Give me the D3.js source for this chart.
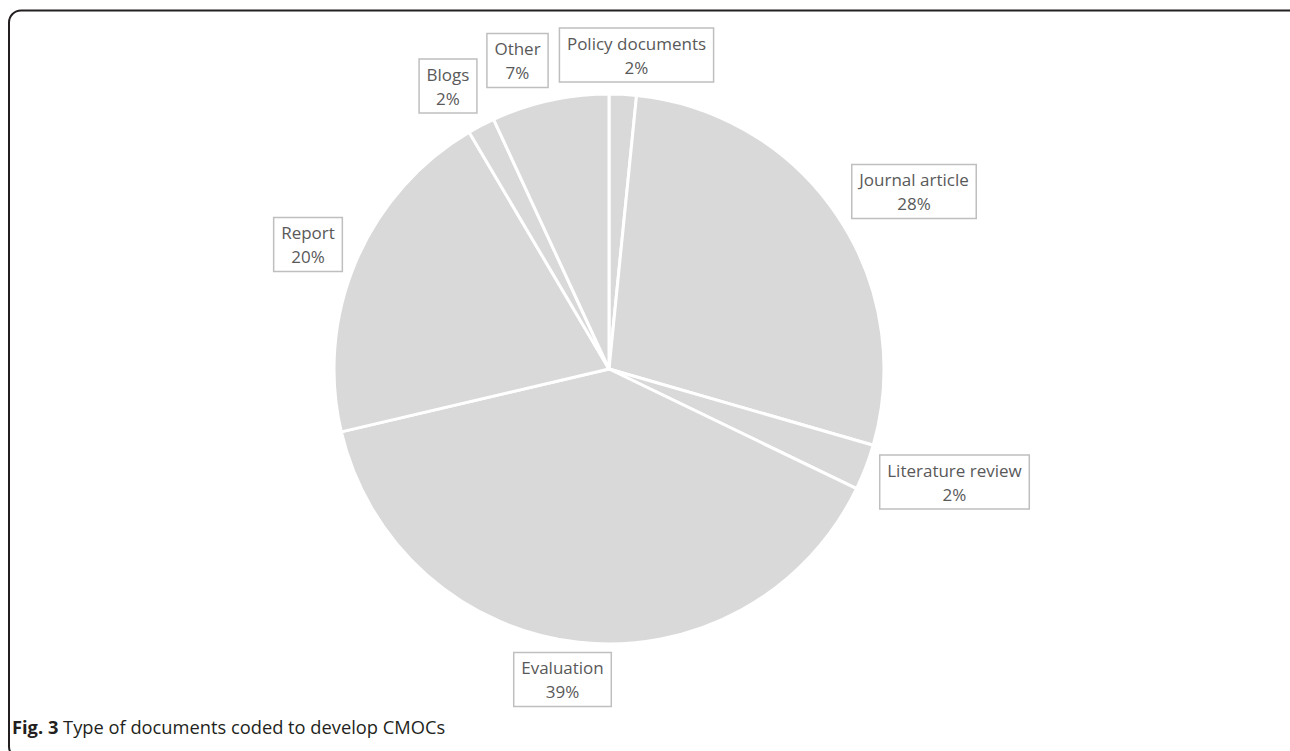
<!DOCTYPE html>
<html>
<head>
<meta charset="utf-8">
<script src="https://cdn.jsdelivr.net/npm/d3@7"></script>
<style>
  html, body { margin: 0; padding: 0; background: #fff; }
  svg { display: block; }
</style>
</head>
<body>
<svg id="chart" width="1290" height="751"></svg>
<script>
// ---- data ----
const categories = ["Policy documents", "Journal article", "Literature review", "Evaluation", "Report", "Blogs", "Other"];
const values = [1.6, 27.9, 2.7, 39.2, 20.2, 1.6, 6.9];
const pctLabels = ["2%", "28%", "2%", "39%", "20%", "2%", "7%"];
const captionBold = "Fig. 3";
const captionText = " Type of documents coded to develop CMOCs";

// ---- layout (label box centres, relative to the pie centre) ----
const labelOffsets = {
  "Policy documents": [27.5, -314],
  "Journal article": [305, -177.5],
  "Literature review": [345.5, 113],
  "Evaluation": [-46.5, 310.5],
  "Report": [-301, -124.5],
  "Blogs": [-161, -283],
  "Other": [-91.5, -308.5]
};

const W = 1290, H = 751;
const cx = 609, cy = 369, R = 275;
const svg = d3.select("#chart");

// frame
svg.append("rect")
  .attr("x", 9).attr("y", 10.5)
  .attr("width", 1292).attr("height", 748)
  .attr("rx", 12).attr("ry", 12)
  .attr("fill", "none").attr("stroke", "#231f20").attr("stroke-width", 2);

const data = categories.map((c, i) => ({ cat: c, value: values[i], label: pctLabels[i] }));

const pie = d3.pie().value(d => d.value).sort(null);
const arcs = pie(data);
const arc = d3.arc().innerRadius(0).outerRadius(R);

const g = svg.append("g").attr("transform", `translate(${cx},${cy})`);
g.selectAll("path.slice")
  .data(arcs)
  .enter().append("path")
  .attr("class", "slice")
  .attr("d", arc)
  .attr("fill", "#d9d9d9")
  .attr("stroke", "#ffffff")
  .attr("stroke-width", 3)
  .attr("stroke-linejoin", "round");

// labels
const fontFamily = "'Open Sans', 'Noto Sans', sans-serif";
const fs = 17;
const padX = 7.5, boxH = 54, lineGap = 24;

arcs.forEach(a => {
  const lg = g.append("g");
  const t1 = lg.append("text").text(a.data.cat)
    .attr("font-family", fontFamily).attr("font-size", fs)
    .attr("fill", "#595959").attr("text-anchor", "middle")
    .attr("y", -lineGap / 2).attr("dominant-baseline", "central");
  const t2 = lg.append("text").text(a.data.label)
    .attr("font-family", fontFamily).attr("font-size", fs)
    .attr("fill", "#595959").attr("text-anchor", "middle")
    .attr("y", lineGap / 2).attr("dominant-baseline", "central");
  const w = Math.max(t1.node().getComputedTextLength(), t2.node().getComputedTextLength()) + 2 * padX;
  const [x, y] = labelOffsets[a.data.cat];
  lg.insert("rect", "text")
    .attr("x", -w / 2).attr("y", -boxH / 2)
    .attr("width", w).attr("height", boxH)
    .attr("fill", "#ffffff").attr("stroke", "#bfbfbf").attr("stroke-width", 1.5);
  lg.attr("transform", `translate(${x},${y})`);
});

// caption
const cap = svg.append("text")
  .attr("x", 12).attr("y", 734)
  .attr("font-family", fontFamily).attr("font-size", 18.3)
  .attr("fill", "#231f20");
cap.append("tspan").attr("font-weight", "bold").text(captionBold);
cap.append("tspan").text(captionText);
</script>
</body>
</html>
